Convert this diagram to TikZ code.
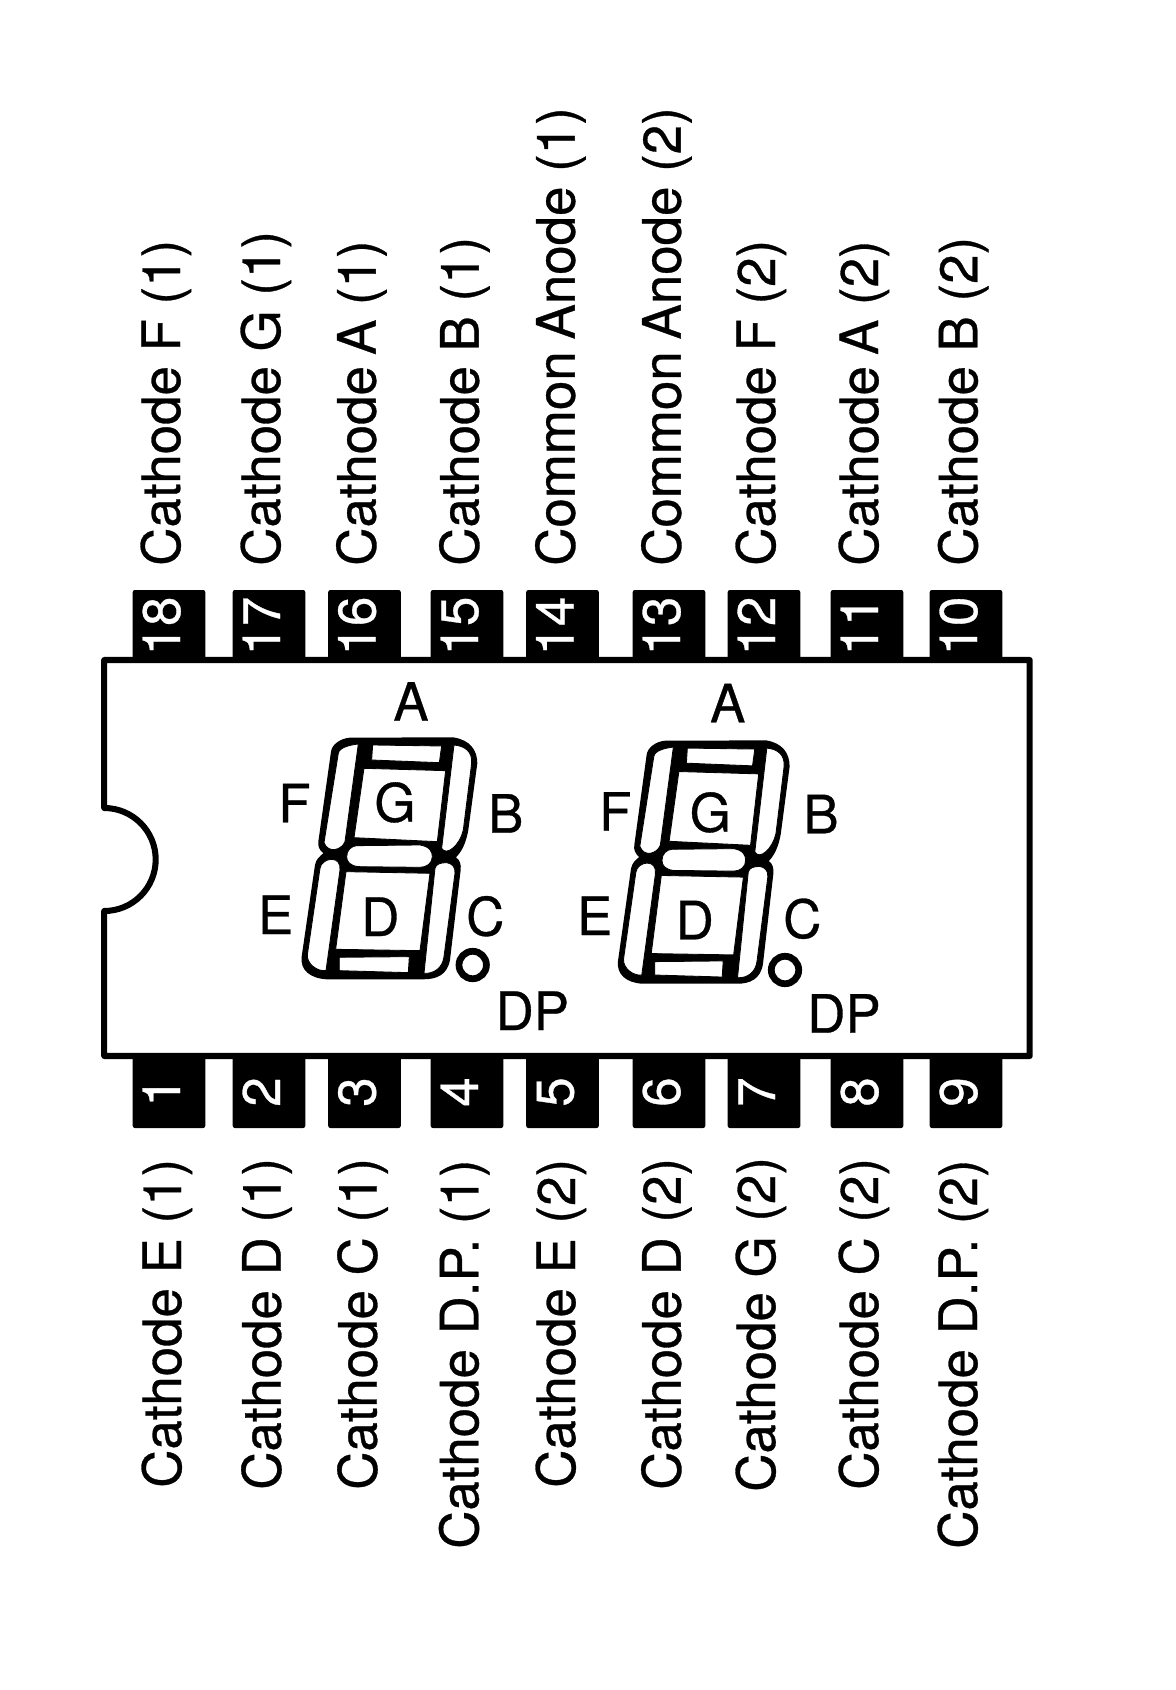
\documentclass[tikz,border=0pt]{standalone}
\usepackage{fontspec}
\setmainfont{TeX Gyre Heros}[FakeBold=0.6]

\tikzset{
    pinbox/.style={rotate=90, fill=black, text=white, inner sep=0pt, rounded corners=1.5pt,
        minimum width=51.2pt, minimum height=51.6pt, text height=15.65pt, text depth=0pt,
        font=\fontsize{37.6}{40}\selectfont},
    pinlabel/.style={rotate=90, anchor=base west, inner sep=0pt, font=\fontsize{37.6}{40}\selectfont},
    seglabel/.style={anchor=base, inner sep=0pt, font=\fontsize{37.6}{40}\selectfont},
    package/.style={draw=black, fill=white, line width=4.3pt, line join=round},
    dpdot/.style={circle, draw=black, line width=4.8pt, inner sep=0pt, minimum size=19.5pt},
    seghole/.style={fill=white, draw=black, line width=0.6pt},
    digit/.pic={
        \fill[black] (300,233) -- (610,232) .. controls (660,240) and (682,270) .. (682,310)
            -- (655,510) .. controls (648,550) and (635,575) .. (618,592)
            .. controls (630,600) and (634,615) .. (632,630)
            -- (600,900) .. controls (592,945) and (560,958) .. (520,958)
            -- (230,958) .. controls (180,955) and (150,930) .. (155,890)
            -- (195,615) .. controls (198,598) and (208,590) .. (220,580)
            .. controls (208,570) and (203,558) .. (205,545)
            -- (243,275) .. controls (245,255) and (270,235) .. (300,233) -- cycle;
        % segments F, B, A
        \path[seghole] (325,252) -- (285,545) .. controls (275,570) and (235,582) .. (222,548)
            -- (265,280) .. controls (268,262) and (300,255) .. (325,252) -- cycle;
        \path[seghole] (612,255) .. controls (645,258) and (668,275) .. (665,310)
            -- (640,510) .. controls (630,555) and (590,590) .. (575,565) -- cycle;
        \path[seghole] (368,255) -- (575,258) -- (568,308) -- (365,300) -- cycle;
        % upper and lower windows
        \path[seghole] (342,325) -- (587,332) -- (562,545) -- (312,533) -- cycle;
        \path[seghole] (288,635) -- (540,640) -- (510,872) -- (257,868) -- cycle;
        % segment G
        \path[seghole] (320,557) -- (510,555) .. controls (540,560) and (547,575) .. (547,590)
            .. controls (547,610) and (530,622) .. (510,622)
            -- (325,620) .. controls (300,617) and (290,605) .. (290,590)
            .. controls (290,570) and (305,558) .. (320,557) -- cycle;
        % segments E, C, D
        \path[seghole] (245,598) .. controls (262,598) and (272,610) .. (270,630)
            -- (228,932) .. controls (200,935) and (170,910) .. (172,885)
            -- (210,625) .. controls (212,610) and (228,598) .. (245,598) -- cycle;
        \path[seghole] (590,608) .. controls (605,610) and (617,620) .. (615,640)
            -- (582,890) .. controls (578,925) and (550,942) .. (522,940)
            -- (555,625) .. controls (558,612) and (572,608) .. (590,608) -- cycle;
        \path[seghole] (268,892) -- (478,890) -- (475,938) -- (268,932) -- cycle;
    }
}

\begin{document}
\begin{tikzpicture}[x=0.025cm, y=-0.025cm]
    \useasboundingbox[fill=white] (0, 0) rectangle (1176, 1690);

    % pins, top row
    \node[pinbox] (p18) at (169, 626) {18};
    \node[pinbox] (p17) at (269, 626) {17};
    \node[pinbox] (p16) at (364.5, 626) {16};
    \node[pinbox] (p15) at (467, 626) {15};
    \node[pinbox] (p14) at (562.5, 626) {14};
    \node[pinbox] (p13) at (669, 626) {13};
    \node[pinbox] (p12) at (764, 626) {12};
    \node[pinbox] (p11) at (867, 626) {11};
    \node[pinbox] (p10) at (966, 626) {10};

    % pins, bottom row
    \node[pinbox] (p1) at (169, 1092) {1};
    \node[pinbox] (p2) at (269, 1092) {2};
    \node[pinbox] (p3) at (364.5, 1092) {3};
    \node[pinbox] (p4) at (467, 1092) {4};
    \node[pinbox] (p5) at (562.5, 1092) {5};
    \node[pinbox] (p6) at (669, 1092) {6};
    \node[pinbox] (p7) at (764, 1092) {7};
    \node[pinbox] (p8) at (867, 1092) {8};
    \node[pinbox] (p9) at (966, 1092) {9};

    \draw[package] (104.2, 660) -- (1029.7, 660) -- (1029.7, 1056) -- (104.2, 1056) -- (104.2, 911)
        arc[start angle=90, end angle=-90, radius=51.5] -- cycle;

    \pic[scale=0.3333] (digit1) at (250, 660) {digit};
    \pic[xscale=0.3257, yscale=0.3352] (digit2) at (567.5, 662.6) {digit};
    \node[dpdot] (dot1) at (472.7, 965) {};
    \node[dpdot] (dot2) at (785, 970) {};

    \node[seglabel] (a1) at (411, 720.7) {A};
    \node[seglabel] (f1) at (294.5, 822.3) {F};
    \node[seglabel] (g1) at (395, 821.7) {G};
    \node[seglabel] (b1) at (505.7, 832.7) {B};
    \node[seglabel] (e1) at (275.7, 934) {E};
    \node[seglabel] (d1) at (380.3, 936) {D};
    \node[seglabel] (c1) at (485.3, 935.5) {C};
    \node[seglabel] (dp1) at (532.3, 1030) {DP};

    \node[seglabel] (a2) at (727.7, 722.3) {A};
    \node[seglabel] (f2) at (615.3, 830.7) {F};
    \node[seglabel] (g2) at (710.3, 831.7) {G};
    \node[seglabel] (b2) at (821, 833.3) {B};
    \node[seglabel] (e2) at (594.7, 935) {E};
    \node[seglabel] (d2) at (694.7, 939.3) {D};
    \node[seglabel] (c2) at (802.3, 938) {C};
    \node[seglabel] (dp2) at (844, 1032.7) {DP};

    % labels, top row
    \node[pinlabel] (l18) at (180, 566) {Cathode F (1)};
    \node[pinlabel] (l17) at (280, 566) {Cathode G (1)};
    \node[pinlabel] (l16) at (375.6, 566) {Cathode \kern-2.5pt A (1)};
    \node[pinlabel] (l15) at (478.6, 566) {Cathode B (1)};
    \node[pinlabel] (l14) at (574.6, 566) {Common \kern-2pt Anode (1)};
    \node[pinlabel] (l13) at (680.6, 566) {Common \kern-2pt Anode (2)};
    \node[pinlabel] (l12) at (775, 566) {Cathode F (2)};
    \node[pinlabel] (l11) at (878, 566) {Cathode \kern-2.5pt A (2)};
    \node[pinlabel] (l10) at (977.3, 566) {Cathode B (2)};

    % labels, bottom row
    \node[pinlabel] (l1) at (181, 1488) {Cathode E (1)};
    \node[pinlabel] (l2) at (280.7, 1490) {Cathode D (1)};
    \node[pinlabel] (l3) at (376.7, 1490) {Cathode C (1)};
    \node[pinlabel] (l4) at (478.3, 1549) {Cathode D.P. (1)};
    \node[pinlabel] (l5) at (575, 1488) {Cathode E (2)};
    \node[pinlabel] (l6) at (680.6, 1490) {Cathode D (2)};
    \node[pinlabel] (l7) at (775, 1492) {Cathode G (2)};
    \node[pinlabel] (l8) at (878, 1490) {Cathode C (2)};
    \node[pinlabel] (l9) at (977, 1549) {Cathode D.P. (2)};
\end{tikzpicture}
\end{document}
